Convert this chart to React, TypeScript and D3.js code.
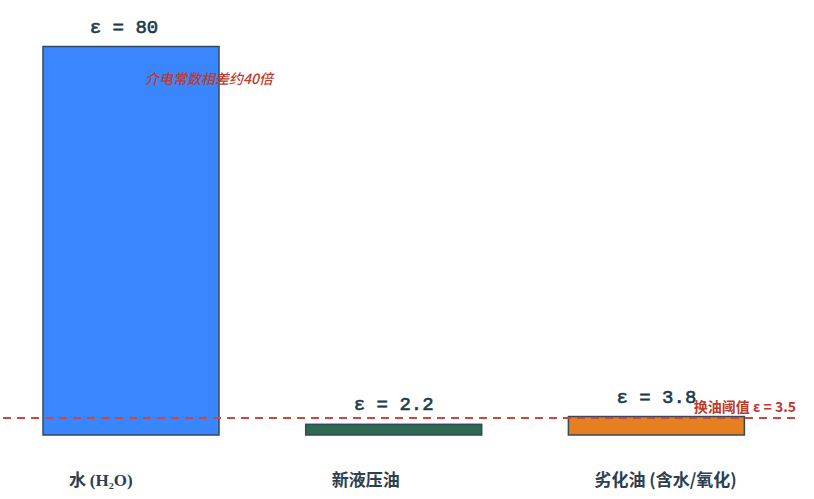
import React from "react";
import * as d3 from "d3";

const categories = ["水 (H₂O)", "新液压油", "劣化油 (含水/氧化)"];
const epsilonValues = [80, 2.2, 3.8];
const valueLabels = ["ε = 80", "ε = 2.2", "ε = 3.8"];
const barColors = ["#3a86ff", "#2d6a4f", "#e67e22"];
const thresholdValue = 3.5;
const thresholdLabel = "换油阈值 ε = 3.5";
const ratioNote = "介电常数相差约40倍";

const width = 814;
const height = 499;
const baseY = 435;
const topY = 46.5;

const App = () => {
  const svgRef = React.useRef<SVGSVGElement>(null);

  React.useEffect(() => {
    const x = d3.scaleBand<string>()
      .domain(categories)
      .range([3.6, 783.8])
      .paddingInner(0.33)
      .paddingOuter(0.15);
    const y = d3.scaleLinear()
      .domain([0, 80])
      .range([baseY, topY]);

    const svgEl = d3.select(svgRef.current);
    svgEl.selectAll("*").remove(); // clear before redraw
    const svg = svgEl.append("g");

    // bars
    svg.selectAll(".bar")
      .data(categories)
      .enter()
      .append("rect")
      .attr("x", (d) => x(d) as number)
      .attr("y", (d, i) => y(epsilonValues[i]))
      .attr("width", x.bandwidth())
      .attr("height", (d, i) => baseY - y(epsilonValues[i]))
      .attr("fill", (d, i) => barColors[i])
      .attr("stroke", "#34495e")
      .attr("stroke-width", 1.5);

    // value labels above bars
    svg.selectAll(".val")
      .data(categories)
      .enter()
      .append("text")
      .attr("x", (d, i) => (x(d) as number) + x.bandwidth() / 2 - (i === 0 ? 7 : 0))
      .attr("y", (d, i) => y(epsilonValues[i]) - 14)
      .attr("text-anchor", "middle")
      .attr("font-family", "'Liberation Mono', 'Courier New', monospace")
      .attr("font-size", 19)
      .attr("stroke", "#1b3a4b")
      .attr("stroke-width", 0.6)
      .attr("fill", "#1b3a4b")
      .text((d, i) => valueLabels[i]);

    // threshold line
    svg.append("line")
      .attr("x1", 3)
      .attr("x2", 796)
      .attr("y1", y(thresholdValue))
      .attr("y2", y(thresholdValue))
      .attr("stroke", "#d0473a")
      .attr("stroke-width", 2)
      .attr("stroke-dasharray", "8,6");

    svg.append("text")
      .attr("x", 796)
      .attr("y", y(thresholdValue) - 6)
      .attr("text-anchor", "end")
      .attr("font-family", "'Noto Sans CJK SC', 'Noto Sans', sans-serif")
      .attr("font-weight", "bold")
      .attr("font-size", 14)
      .attr("fill", "#c0392b")
      .text(thresholdLabel);

    // ratio note
    svg.append("text")
      .attr("x", (x(categories[0]) as number) + x.bandwidth() / 2 + 14)
      .attr("y", 84)
      .attr("font-family", "'Noto Sans CJK SC', 'Noto Sans', sans-serif")
      .attr("font-style", "italic")
      .attr("font-weight", 500)
      .attr("font-size", 14)
      .attr("fill", "#c0392b")
      .text(ratioNote);

    // category labels
    const cat = svg.selectAll(".cat")
      .data(categories)
      .enter()
      .append("text")
      .attr("x", (d) => (x(d) as number) + 26)
      .attr("y", 486)
      .attr("font-family", "'Noto Sans CJK SC', 'Noto Sans', sans-serif")
      .attr("font-weight", "bold")
      .attr("font-size", 17)
      .attr("fill", "#2c3e50");
    cat.each(function (d) {
      const t = d3.select(this);
      if (d.startsWith("水")) {
        t.append("tspan").text("水 ");
        t.append("tspan")
          .attr("font-family", "'Liberation Serif', 'DejaVu Serif', serif")
          .text("(H₂O)");
      } else {
        t.text(d);
      }
    });
  }, []);

  return (
    <svg
      ref={svgRef}
      width={width}
      height={height}
      style={{ position: "absolute", left: 0, top: 0, background: "#fff" }}
    />
  );
};

export default App;
